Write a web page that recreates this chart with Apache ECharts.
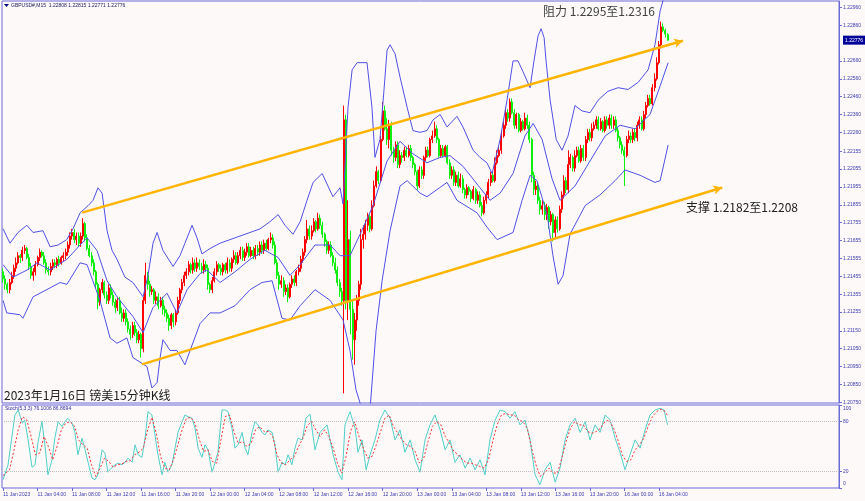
<!DOCTYPE html>
<html><head><meta charset="utf-8">
<script src="https://cdn.jsdelivr.net/npm/echarts@6/dist/echarts.min.js"></script>
<style>html,body{margin:0;padding:0;background:#fdf9f9;}#c{width:865px;height:501px;}</style>
</head><body><div id="c"></div>
<script>
const tickLabels = ["11 Jan 2023","11 Jan 04:00","11 Jan 08:00","11 Jan 12:00","11 Jan 16:00","11 Jan 20:00","12 Jan 00:00","12 Jan 04:00","12 Jan 08:00","12 Jan 12:00","12 Jan 16:00","12 Jan 20:00","13 Jan 00:00","13 Jan 04:00","13 Jan 08:00","13 Jan 12:00","13 Jan 16:00","13 Jan 20:00","16 Jan 00:00","16 Jan 04:00"];
const priceTicks = [1.22960,1.22860,1.22660,1.22560,1.22460,1.22360,1.22260,1.22155,1.22055,1.21955,1.21855,1.21755,1.21655,1.21555,1.21455,1.21355,1.21255,1.21150,1.21050,1.20950,1.20850,1.20750];
const stochTicks = [100,80,20,0];
const lastPrice = 1.22776;
const yMin = 1.20746, yMax = 1.22995;

const opens = [1.2148,1.2144,1.2141,1.2138,1.2142,1.2146,1.2150,1.2153,1.2157,1.2156,
1.2160,1.2161,1.2156,1.2151,1.2146,1.2148,1.2152,1.2156,1.2159,1.2157,
1.2153,1.2149,1.2148,1.2151,1.2153,1.2152,1.2155,1.2153,1.2156,1.2157,
1.2159,1.2163,1.2168,1.2170,1.2166,1.2168,1.2164,1.2168,1.2175,1.2167,
1.2161,1.2157,1.2153,1.2148,1.2141,1.2131,1.2138,1.2142,1.2135,1.2132,
1.2139,1.2135,1.2131,1.2128,1.2132,1.2125,1.2122,1.2125,1.2120,1.2116,
1.2113,1.2118,1.2114,1.2110,1.2113,1.2105,1.2132,1.2146,1.2141,1.2137,
1.2138,1.2132,1.2134,1.2129,1.2132,1.2127,1.2125,1.2122,1.2118,1.2124,
1.2120,1.2125,1.2132,1.2138,1.2142,1.2146,1.2148,1.2152,1.2149,1.2153,
1.2150,1.2153,1.2151,1.2149,1.2152,1.2150,1.2141,1.2138,1.2143,1.2148,
1.2152,1.2150,1.2148,1.2152,1.2149,1.2153,1.2150,1.2155,1.2157,1.2153,
1.2157,1.2160,1.2156,1.2159,1.2162,1.2157,1.2160,1.2157,1.2161,1.2159,
1.2163,1.2160,1.2164,1.2161,1.2166,1.2167,1.2163,1.2153,1.2146,1.2141,
1.2143,1.2137,1.2139,1.2134,1.2141,1.2144,1.2142,1.2148,1.2150,1.2155,
1.2159,1.2166,1.2172,1.2168,1.2171,1.2176,1.2172,1.2178,1.2174,1.2169,
1.2165,1.2160,1.2163,1.2157,1.2153,1.2149,1.2142,1.2137,1.2132,1.2233,
1.2132,1.2166,1.2127,1.2110,1.2121,1.2132,1.2141,1.2166,1.2169,1.2174,
1.2179,1.2172,1.2185,1.2196,1.2204,1.2199,1.2222,1.2238,1.2228,1.2222,
1.2230,1.2216,1.2212,1.2219,1.2208,1.2213,1.2212,1.2216,1.2213,1.2217,
1.2212,1.2208,1.2204,1.2196,1.2205,1.2202,1.2212,1.2216,1.2213,1.2222,
1.2224,1.2228,1.2222,1.2213,1.2217,1.2213,1.2218,1.2209,1.2202,1.2205,
1.2198,1.2202,1.2196,1.2200,1.2194,1.2191,1.2195,1.2193,1.2189,1.2194,
1.2188,1.2191,1.2185,1.2181,1.2188,1.2191,1.2198,1.2202,1.2199,1.2209,
1.2213,1.2216,1.2224,1.2230,1.2237,1.2234,1.2243,1.2237,1.2230,1.2236,
1.2227,1.2232,1.2228,1.2234,1.2230,1.2222,1.2202,1.2194,1.2196,1.2188,
1.2183,1.2185,1.2180,1.2184,1.2176,1.2180,1.2170,1.2177,1.2172,1.2183,
1.2191,1.2199,1.2194,1.2208,1.2212,1.2206,1.2213,1.2216,1.2210,1.2217,
1.2212,1.2222,1.2226,1.2223,1.2228,1.2230,1.2233,1.2228,1.2232,1.2227,
1.2233,1.2230,1.2234,1.2230,1.2233,1.2227,1.2223,1.2219,1.2216,1.2213,
1.2222,1.2224,1.2222,1.2226,1.2223,1.2230,1.2233,1.2228,1.2236,1.2241,
1.2245,1.2242,1.2251,1.2256,1.2265,1.2275,1.2285,1.2283,1.22808];
const highs = [1.2150,1.2146,1.2142,1.2144,1.2148,1.2152,1.2156,1.2159,1.2158,1.2162,
1.2163,1.2162,1.2158,1.2153,1.2150,1.2154,1.2157,1.2161,1.2160,1.2159,
1.2155,1.2151,1.2153,1.2155,1.2155,1.2156,1.2157,1.2157,1.2159,1.2161,
1.2165,1.2170,1.2172,1.2172,1.2170,1.2170,1.2170,1.2178,1.2176,1.2169,
1.2163,1.2159,1.2155,1.2149,1.2142,1.2139,1.2144,1.2143,1.2137,1.2141,
1.2141,1.2137,1.2133,1.2134,1.2134,1.2128,1.2127,1.2127,1.2122,1.2118,
1.2120,1.2120,1.2116,1.2115,1.2114,1.2134,1.2153,1.2148,1.2143,1.2140,
1.2139,1.2137,1.2136,1.2134,1.2134,1.2129,1.2127,1.2124,1.2125,1.2125,
1.2127,1.2134,1.2139,1.2144,1.2148,1.2150,1.2154,1.2153,1.2156,1.2155,
1.2156,1.2155,1.2153,1.2155,1.2154,1.2152,1.2142,1.2145,1.2150,1.2154,
1.2153,1.2152,1.2153,1.2153,1.2156,1.2155,1.2156,1.2160,1.2159,1.2159,
1.2162,1.2162,1.2161,1.2164,1.2164,1.2162,1.2162,1.2163,1.2163,1.2165,
1.2165,1.2166,1.2166,1.2167,1.2170,1.2169,1.2165,1.2155,1.2148,1.2146,
1.2145,1.2141,1.2141,1.2142,1.2146,1.2146,1.2149,1.2152,1.2157,1.2161,
1.2168,1.2177,1.2174,1.2174,1.2178,1.2177,1.2181,1.2180,1.2176,1.2170,
1.2166,1.2165,1.2165,1.2159,1.2156,1.2151,1.2144,1.2139,1.2241,1.2236,
1.2188,1.2171,1.2132,1.2125,1.2135,1.2143,1.2172,1.2174,1.2177,1.2181,
1.2180,1.2188,1.2199,1.2207,1.2205,1.2224,1.2243,1.2241,1.2234,1.2233,
1.2232,1.2218,1.2221,1.2221,1.2216,1.2215,1.2218,1.2218,1.2219,1.2219,
1.2213,1.2209,1.2205,1.2207,1.2207,1.2213,1.2218,1.2218,1.2223,1.2227,
1.2232,1.2230,1.2223,1.2219,1.2219,1.2219,1.2219,1.2211,1.2207,1.2207,
1.2204,1.2204,1.2203,1.2202,1.2195,1.2197,1.2196,1.2194,1.2196,1.2195,
1.2193,1.2193,1.2187,1.2190,1.2193,1.2200,1.2204,1.2204,1.2212,1.2216,
1.2218,1.2227,1.2232,1.2240,1.2239,1.2245,1.2245,1.2239,1.2237,1.2237,
1.2234,1.2233,1.2237,1.2236,1.2232,1.2223,1.2204,1.2199,1.2198,1.2190,
1.2188,1.2187,1.2186,1.2185,1.2182,1.2181,1.2179,1.2179,1.2185,1.2193,
1.2202,1.2201,1.2216,1.2214,1.2213,1.2216,1.2218,1.2218,1.2219,1.2219,
1.2224,1.2228,1.2228,1.2231,1.2232,1.2235,1.2235,1.2234,1.2233,1.2235,
1.2235,1.2236,1.2236,1.2235,1.2235,1.2229,1.2224,1.2221,1.2218,1.2224,
1.2227,1.2226,1.2228,1.2228,1.2232,1.2235,1.2235,1.2238,1.2243,1.2247,
1.2247,1.2253,1.2259,1.2268,1.2277,1.2288,1.2287,1.2284,1.22815];
const lows = [1.2142,1.2138,1.2136,1.2136,1.2141,1.2144,1.2148,1.2152,1.2153,1.2154,
1.2158,1.2155,1.2149,1.2144,1.2143,1.2146,1.2151,1.2154,1.2156,1.2152,
1.2147,1.2146,1.2146,1.2149,1.2150,1.2150,1.2151,1.2152,1.2154,1.2155,
1.2157,1.2161,1.2166,1.2164,1.2163,1.2162,1.2162,1.2166,1.2165,1.2160,
1.2156,1.2151,1.2146,1.2139,1.2127,1.2129,1.2136,1.2133,1.2130,1.2130,
1.2133,1.2129,1.2125,1.2126,1.2124,1.2120,1.2120,1.2118,1.2114,1.2110,
1.2111,1.2112,1.2108,1.2108,1.2100,1.2103,1.2130,1.2138,1.2134,1.2135,
1.2130,1.2130,1.2127,1.2128,1.2124,1.2123,1.2120,1.2115,1.2116,1.2117,
1.2118,1.2124,1.2130,1.2136,1.2140,1.2144,1.2146,1.2147,1.2147,1.2148,
1.2148,1.2149,1.2147,1.2147,1.2148,1.2138,1.2136,1.2136,1.2142,1.2146,
1.2148,1.2146,1.2146,1.2147,1.2147,1.2148,1.2148,1.2153,1.2152,1.2152,
1.2155,1.2154,1.2154,1.2157,1.2156,1.2156,1.2155,1.2155,1.2157,1.2157,
1.2158,1.2158,1.2160,1.2160,1.2164,1.2161,1.2152,1.2144,1.2138,1.2139,
1.2134,1.2135,1.2131,1.2133,1.2139,1.2140,1.2140,1.2146,1.2148,1.2153,
1.2157,1.2164,1.2166,1.2166,1.2170,1.2170,1.2171,1.2172,1.2167,1.2162,
1.2158,1.2158,1.2156,1.2151,1.2147,1.2140,1.2134,1.2129,1.2080,1.2127,
1.2121,1.2113,1.2099,1.2096,1.2115,1.2129,1.2138,1.2161,1.2166,1.2171,
1.2170,1.2171,1.2184,1.2195,1.2197,1.2198,1.2221,1.2227,1.2219,1.2217,
1.2213,1.2209,1.2210,1.2206,1.2206,1.2209,1.2210,1.2212,1.2212,1.2210,
1.2206,1.2202,1.2194,1.2195,1.2200,1.2200,1.2210,1.2212,1.2212,1.2220,
1.2223,1.2220,1.2212,1.2212,1.2212,1.2212,1.2208,1.2200,1.2200,1.2196,
1.2196,1.2195,1.2195,1.2192,1.2189,1.2189,1.2191,1.2187,1.2188,1.2186,
1.2186,1.2184,1.2179,1.2180,1.2186,1.2189,1.2196,1.2198,1.2198,1.2208,
1.2212,1.2214,1.2223,1.2228,1.2232,1.2232,1.2236,1.2228,1.2228,1.2226,
1.2226,1.2227,1.2227,1.2228,1.2220,1.2198,1.2191,1.2191,1.2186,1.2180,
1.2180,1.2177,1.2177,1.2172,1.2174,1.2165,1.2167,1.2170,1.2171,1.2181,
1.2189,1.2192,1.2192,1.2206,1.2204,1.2204,1.2212,1.2209,1.2209,1.2210,
1.2210,1.2220,1.2221,1.2221,1.2227,1.2228,1.2227,1.2227,1.2226,1.2226,
1.2228,1.2228,1.2228,1.2228,1.2226,1.2221,1.2217,1.2214,1.2196,1.2212,
1.2220,1.2220,1.2220,1.2221,1.2221,1.2228,1.2227,1.2227,1.2234,1.2240,
1.2241,1.2241,1.2249,1.2255,1.2264,1.2273,1.2282,1.2279,1.22771];
const closes = [1.2144,1.2141,1.2138,1.2142,1.2146,1.2150,1.2153,1.2157,1.2156,1.2160,
1.2161,1.2156,1.2151,1.2146,1.2148,1.2152,1.2156,1.2159,1.2157,1.2153,
1.2149,1.2148,1.2151,1.2153,1.2152,1.2155,1.2153,1.2156,1.2157,1.2159,
1.2163,1.2168,1.2170,1.2166,1.2168,1.2164,1.2168,1.2175,1.2167,1.2161,
1.2157,1.2153,1.2148,1.2141,1.2131,1.2138,1.2142,1.2135,1.2132,1.2139,
1.2135,1.2131,1.2128,1.2132,1.2125,1.2122,1.2125,1.2120,1.2116,1.2113,
1.2118,1.2114,1.2110,1.2113,1.2105,1.2132,1.2146,1.2141,1.2137,1.2138,
1.2132,1.2134,1.2129,1.2132,1.2127,1.2125,1.2122,1.2118,1.2124,1.2120,
1.2125,1.2132,1.2138,1.2142,1.2146,1.2148,1.2152,1.2149,1.2153,1.2150,
1.2153,1.2151,1.2149,1.2152,1.2150,1.2141,1.2138,1.2143,1.2148,1.2152,
1.2150,1.2148,1.2152,1.2149,1.2153,1.2150,1.2155,1.2157,1.2153,1.2157,
1.2160,1.2156,1.2159,1.2162,1.2157,1.2160,1.2157,1.2161,1.2159,1.2163,
1.2160,1.2164,1.2161,1.2166,1.2167,1.2163,1.2153,1.2146,1.2141,1.2143,
1.2137,1.2139,1.2134,1.2141,1.2144,1.2142,1.2148,1.2150,1.2155,1.2159,
1.2166,1.2172,1.2168,1.2171,1.2176,1.2172,1.2178,1.2174,1.2169,1.2165,
1.2160,1.2163,1.2157,1.2153,1.2149,1.2142,1.2137,1.2132,1.2233,1.2132,
1.2166,1.2127,1.2110,1.2121,1.2132,1.2141,1.2166,1.2169,1.2174,1.2179,
1.2172,1.2185,1.2196,1.2204,1.2199,1.2222,1.2238,1.2228,1.2222,1.2230,
1.2216,1.2212,1.2219,1.2208,1.2213,1.2212,1.2216,1.2213,1.2217,1.2212,
1.2208,1.2204,1.2196,1.2205,1.2202,1.2212,1.2216,1.2213,1.2222,1.2224,
1.2228,1.2222,1.2213,1.2217,1.2213,1.2218,1.2209,1.2202,1.2205,1.2198,
1.2202,1.2196,1.2200,1.2194,1.2191,1.2195,1.2193,1.2189,1.2194,1.2188,
1.2191,1.2185,1.2181,1.2188,1.2191,1.2198,1.2202,1.2199,1.2209,1.2213,
1.2216,1.2224,1.2230,1.2237,1.2234,1.2243,1.2237,1.2230,1.2236,1.2227,
1.2232,1.2228,1.2234,1.2230,1.2222,1.2202,1.2194,1.2196,1.2188,1.2183,
1.2185,1.2180,1.2184,1.2176,1.2180,1.2170,1.2177,1.2172,1.2183,1.2191,
1.2199,1.2194,1.2208,1.2212,1.2206,1.2213,1.2216,1.2210,1.2217,1.2212,
1.2222,1.2226,1.2223,1.2228,1.2230,1.2233,1.2228,1.2232,1.2227,1.2233,
1.2230,1.2234,1.2230,1.2233,1.2227,1.2223,1.2219,1.2216,1.2213,1.2222,
1.2224,1.2222,1.2226,1.2223,1.2230,1.2233,1.2228,1.2236,1.2241,1.2245,
1.2242,1.2251,1.2256,1.2265,1.2275,1.2285,1.2283,1.2281,1.22776];

const bbUpper = [[0,1.2172],[3.2,1.2164],[6.9,1.2170],[11,1.2174],[13.9,1.2170],[18.5,1.2171],[21.8,1.2162],[25.5,1.2163],[29.5,1.2166],[32.4,1.2172],[35.7,1.2181],[39.4,1.2185],[41.7,1.2188],[44,1.2195],[45.9,1.2192],[48.2,1.2171],[50.5,1.2160],[52.8,1.2155],[56.5,1.2145],[60.2,1.2142],[64.9,1.2134],[67.2,1.2146],[69.5,1.2164],[71.4,1.2170],[74.1,1.2160],[78.8,1.2151],[82,1.2157],[84.3,1.2164],[87.6,1.2174],[89.9,1.2167],[92.2,1.2158],[95.9,1.2161],[100.6,1.2164],[105.2,1.2166],[109.8,1.2168],[114.5,1.2170],[119.1,1.2172],[123.7,1.2176],[127.5,1.2180],[130.7,1.2174],[134.4,1.2169],[137.7,1.2176],[140.9,1.2188],[143.7,1.2198],[147.9,1.2203],[152.9,1.2190],[156.2,1.2195],[157.6,1.2186],[159.9,1.2240],[161.8,1.2261],[164.1,1.2265],[168.7,1.2265],[171,1.2240],[172.4,1.2212],[174.7,1.2222],[176.6,1.2250],[178,1.2272],[179.4,1.2275],[181.7,1.2270],[184,1.2257],[187.3,1.2240],[190,1.2227],[193.3,1.2226],[196.5,1.2227],[199.3,1.2233],[202.6,1.2236],[205.8,1.2229],[210.4,1.2235],[213.2,1.2229],[217.9,1.2216],[221.1,1.2212],[224.3,1.2209],[226.7,1.2203],[230.4,1.2222],[233.6,1.2244],[236.4,1.2266],[238.7,1.2266],[241,1.2260],[244.3,1.2251],[246.1,1.2266],[248,1.2280],[249.4,1.2284],[250.8,1.2279],[251.7,1.2266],[253.6,1.2244],[256.4,1.2222],[259.1,1.2216],[261.9,1.2224],[265.1,1.2241],[268.4,1.2238],[272.1,1.2237],[275.8,1.2244],[280.4,1.2249],[285.1,1.2251],[289.7,1.2250],[294.4,1.2254],[299,1.2261],[302.2,1.2275],[304.6,1.2294],[306,1.2300]];
const bbMid = [[0,1.2152],[4.6,1.2145],[11.1,1.2149],[15.7,1.2153],[21.8,1.2149],[29.6,1.2155],[35.7,1.2163],[38.9,1.2167],[43.5,1.2160],[48.2,1.2143],[52.8,1.2134],[60.2,1.2123],[64.9,1.2114],[69.5,1.2128],[76,1.2136],[80.6,1.2125],[85.3,1.2138],[91.3,1.2147],[94.5,1.2149],[100.6,1.2142],[107.5,1.2148],[114.5,1.2155],[121.4,1.2160],[127.5,1.2156],[133,1.2146],[137.7,1.2152],[144.6,1.2163],[151.6,1.2163],[156.2,1.2157],[160.8,1.2157],[165.5,1.2169],[171.5,1.2185],[178,1.2210],[184,1.2221],[190,1.2214],[196.5,1.2209],[202.6,1.2212],[207.2,1.2213],[213.2,1.2207],[221.1,1.2195],[225.7,1.2188],[230.4,1.2192],[236.4,1.2203],[241.9,1.2224],[245.7,1.2231],[249.9,1.2222],[254.5,1.2200],[258.2,1.2188],[265.1,1.2196],[272.1,1.2210],[279.1,1.2224],[286,1.2230],[293,1.2228],[299.9,1.2236],[304.6,1.2252],[308.3,1.2265]];
const bbLower = [[0,1.2132],[1.7,1.2125],[7.8,1.2124],[9.2,1.2122],[13.9,1.2134],[21.8,1.2139],[26.4,1.2142],[29.6,1.2141],[35.7,1.2153],[38.9,1.2152],[44.9,1.2132],[49.6,1.2111],[52.8,1.2108],[57.4,1.2111],[60.2,1.2100],[66.7,1.2095],[69,1.2083],[71.4,1.2086],[72.8,1.2100],[74.1,1.2110],[77.4,1.2104],[80.6,1.2104],[84.3,1.2096],[86.7,1.2104],[91.3,1.2119],[95.9,1.2125],[100.6,1.2125],[107.5,1.2129],[114.5,1.2138],[120,1.2142],[124.7,1.2143],[129.3,1.2122],[133,1.2121],[137.7,1.2129],[144.6,1.2138],[151.6,1.2132],[157.6,1.2121],[160.8,1.2104],[163.6,1.2082],[166.4,1.2071],[170.1,1.2071],[172.9,1.2115],[175.7,1.2143],[179.4,1.2171],[184,1.2196],[187.3,1.2199],[193.3,1.2192],[196.5,1.2190],[205.8,1.2198],[210.4,1.2188],[219.7,1.2181],[224.3,1.2173],[229,1.2166],[236.4,1.2170],[240.6,1.2188],[244.3,1.2202],[247.5,1.2199],[252.2,1.2180],[254.9,1.2157],[257.3,1.2141],[259.6,1.2146],[262.8,1.2169],[269.8,1.2185],[276.7,1.2191],[283.7,1.2199],[288.3,1.2205],[295.3,1.2202],[302.2,1.2198],[304.6,1.2199],[308.3,1.2219]];

const stochMain = [[0,10],[2.3,28],[4,60],[5.5,88],[7,94],[9,78],[10,82],[11.5,60],[13.4,25],[14.8,28],[16.2,55],[18,80],[19.4,52],[20.8,16],[22.7,34],[24,60],[25.5,80],[27.3,74],[28.7,80],[30,84],[32,78],[33.3,67],[34.7,40],[36.6,60],[38,46],[39.4,31],[41.2,12],[42.6,10],[44,16],[45.9,46],[47.2,42],[48.6,19],[50.5,25],[51.9,28],[53.3,30],[55.1,28],[56.5,31],[57.9,36],[59.8,31],[61.2,52],[62.6,40],[64.4,37],[65.8,60],[67.2,92],[69,88],[70.4,64],[71.8,40],[73.7,16],[75,31],[76.5,19],[78.3,28],[79.7,48],[81.1,67],[83,80],[84.3,88],[85.7,86],[87.6,84],[89,72],[90.4,48],[92.2,37],[93.6,52],[95,46],[96.9,19],[98.3,31],[99.6,43],[101.5,94],[102.9,94],[104.3,92],[106.1,72],[107.5,48],[108.9,52],[110.8,67],[112.2,48],[113.5,40],[115.4,67],[116.8,80],[118.2,76],[120,67],[121.4,64],[122.8,70],[124.7,67],[126,52],[127.5,19],[129.3,31],[130.7,28],[132.1,40],[133.9,28],[135.3,48],[136.7,60],[138.7,58],[140.4,84],[142.3,89],[144.6,46],[146.9,67],[150.2,76],[153,40],[155.3,19],[157.1,10],[158.5,76],[160.8,92],[163.2,72],[164.5,43],[166.4,58],[168.3,22],[170.1,40],[172.4,58],[174.7,82],[177,94],[179.4,84],[181.7,58],[184,70],[186.3,43],[188.7,58],[191,34],[193.3,19],[195.6,58],[197.9,76],[200.2,88],[202.6,70],[204.9,46],[207.2,58],[209.5,31],[211.8,40],[214.2,24],[216.5,36],[218.8,22],[221.1,34],[223.4,16],[225.7,58],[228.1,82],[230.4,94],[232.7,92],[235,84],[237.3,92],[239.6,76],[241.9,82],[244.3,58],[246.6,16],[248.9,4],[251.2,22],[253.6,31],[255.9,7],[258.2,24],[260.5,58],[262.8,76],[265.2,84],[267.5,67],[269.8,80],[272.1,58],[274.4,76],[276.7,67],[279.1,88],[281.4,82],[283.7,60],[286,43],[288.3,22],[290.6,40],[293,58],[295.3,48],[297.6,70],[299.9,88],[302.2,94],[304.6,96],[306.4,94],[308,76.1]];
const stochSignal = [[0,15],[3,22],[5,45],[7,70],[9,86],[11,82],[13,62],[15,40],[17,42],[19,62],[21,50],[23,34],[25,50],[27,70],[29,78],[31,80],[33,75],[35,58],[37,52],[39,48],[41,28],[43,14],[45,24],[47,36],[49,32],[51,25],[53,28],[55,29],[57,32],[59,33],[61,40],[63,43],[65,48],[67,70],[69,85],[71,66],[73,38],[75,24],[77,22],[79,34],[81,52],[83,70],[85,84],[87,85],[89,78],[91,58],[93,44],[95,46],[97,32],[99,30],[101,58],[103,86],[105,88],[107,68],[109,54],[111,56],[113,50],[115,54],[117,70],[119,74],[121,68],[123,68],[125,62],[127,40],[129,30],[131,28],[133,34],[135,38],[137,50],[139,60],[141,75],[143,80],[145,70],[147,62],[149,70],[151,62],[153,48],[155,30],[157,18],[159,38],[161,68],[163,80],[165,62],[167,48],[169,36],[171,38],[173,52],[175,68],[177,84],[179,88],[181,74],[183,66],[185,58],[187,52],[189,50],[191,44],[193,30],[195,36],[197,56],[199,74],[201,80],[203,76],[205,62],[207,54],[209,44],[211,40],[213,34],[215,30],[217,30],[219,28],[221,26],[223,24],[225,34],[227,56],[229,76],[231,88],[233,90],[235,88],[237,88],[239,82],[241,80],[243,72],[245,48],[247,28],[249,14],[251,18],[253,24],[255,18],[257,18],[259,36],[261,56],[263,72],[265,80],[267,76],[269,76],[271,68],[273,66],[275,68],[277,72],[279,80],[281,82],[283,72],[285,58],[287,40],[289,32],[291,34],[293,46],[295,52],[297,60],[299,74],[301,86],[303,92],[305,95],[307,92],[308,86.87]];

const upperChannel = [[36.6,1.21811],[315.2,1.22773]];
const lowerChannel = [[64.4,1.20962],[333.4,1.21952]];

const N = 388;
const cats = Array.from({length:N},(_,i)=>String(i));
const candleData = cats.map((_,i)=>(i<closes.length)?[opens[i],closes[i],lows[i],highs[i]]:'-');
const blue='#5050e6', frame='#6b6bd6', axisTxt='#3a3ab0';
const fnt = 'Liberation Sans';
const chart = echarts.init(document.getElementById('c'),null,{renderer:'canvas'});
chart.setOption({
  animation:false,
  backgroundColor:'#fdf9f9',
  grid:[
    {left:2,top:1,width:837,height:402,show:true,borderColor:frame,borderWidth:1,outerBoundsMode:'none',containLabel:false},
    {left:2,top:405,width:837,height:83,show:true,borderColor:frame,borderWidth:1,outerBoundsMode:'none',containLabel:false}
  ],
  xAxis:[
    {type:'category',gridIndex:0,data:cats,show:false,boundaryGap:true},
    {type:'value',gridIndex:0,min:-0.5,max:N-0.5,show:false},
    {type:'category',gridIndex:1,data:cats,boundaryGap:true,
      axisLine:{show:false},
      axisTick:{show:true,alignWithLabel:true,interval:(i)=>i%16===0&&i/16<tickLabels.length,length:3,lineStyle:{color:frame}},
      axisLabel:{interval:(i)=>i%16===0&&i/16<tickLabels.length,formatter:(v,i)=>tickLabels[i/16]||'',align:'left',margin:4,fontSize:5,fontFamily:fnt,color:axisTxt}},
    {type:'value',gridIndex:1,min:-0.5,max:N-0.5,show:false}
  ],
  yAxis:[
    {type:'value',gridIndex:0,position:'right',min:yMin,max:yMax,splitLine:{show:false},
      axisLine:{show:true,onZero:false,lineStyle:{color:frame}},
      axisTick:{show:true,inside:false,length:3,customValues:priceTicks,lineStyle:{color:frame}},
      axisLabel:{customValues:priceTicks.concat([lastPrice]),margin:4,fontSize:5,fontFamily:fnt,color:axisTxt,
        formatter:(v)=>Math.abs(v-lastPrice)<1e-7?'{hl|'+lastPrice.toFixed(5)+'}':v.toFixed(5),
        rich:{hl:{backgroundColor:'#000099',color:'#ffffff',fontSize:5,fontFamily:fnt,padding:[2,3,2,2]}}}},
    {type:'value',gridIndex:1,position:'right',min:0,max:100,splitLine:{show:false},
      axisLine:{show:true,onZero:false,lineStyle:{color:frame}},
      axisTick:{show:true,inside:false,length:3,customValues:stochTicks,lineStyle:{color:frame}},
      axisLabel:{customValues:stochTicks,margin:4,fontSize:5,fontFamily:fnt,color:axisTxt,
        formatter:(v)=>v===100?'{t|100}':(v===0?'{b|0}':String(v)),
        rich:{t:{fontSize:5,fontFamily:fnt,color:axisTxt,padding:[8,0,0,0]},b:{fontSize:5,fontFamily:fnt,color:axisTxt,padding:[0,0,8,0]}}}}
  ],
  series:[
    {type:'line',xAxisIndex:1,yAxisIndex:0,data:bbUpper,symbol:'none',lineStyle:{color:blue,width:1}},
    {type:'line',xAxisIndex:1,yAxisIndex:0,data:bbMid,symbol:'none',lineStyle:{color:blue,width:1}},
    {type:'line',xAxisIndex:1,yAxisIndex:0,data:bbLower,symbol:'none',lineStyle:{color:blue,width:1}},
    {type:'candlestick',xAxisIndex:0,yAxisIndex:0,data:candleData,barWidth:1.5,
      itemStyle:{color:'#ff0000',color0:'#10ee10',borderColor:'#ff0000',borderColor0:'#10ee10',borderWidth:1}},
    {type:'line',xAxisIndex:1,yAxisIndex:0,data:upperChannel,symbol:'none',lineStyle:{opacity:0},
      markLine:{silent:true,symbol:['none','arrow'],symbolSize:[7,9],label:{show:false},lineStyle:{color:'#ffb400',width:2.5,type:'solid'},
        data:[[{coord:upperChannel[0]},{coord:upperChannel[1]}]]}},
    {type:'line',xAxisIndex:1,yAxisIndex:0,data:lowerChannel,symbol:'none',lineStyle:{opacity:0},
      markLine:{silent:true,symbol:['none','arrow'],symbolSize:[7,9],label:{show:false},lineStyle:{color:'#ffb400',width:2.5,type:'solid'},
        data:[[{coord:lowerChannel[0]},{coord:lowerChannel[1]}]]}},
    {type:'line',xAxisIndex:3,yAxisIndex:1,data:stochMain,symbol:'none',lineStyle:{color:'#4fd0c8',width:1},
      markLine:{silent:true,symbol:'none',label:{show:false},lineStyle:{color:'#c0c0c0',width:1,type:'dotted'},data:[{yAxis:80},{yAxis:20}]}},
    {type:'line',xAxisIndex:3,yAxisIndex:1,data:stochSignal,symbol:'none',lineStyle:{color:'#ff3030',width:1,type:[2,2]}}
  ],
  graphic:[
    {type:'polygon',shape:{points:[[4,4],[9,4],[6.5,7]]},style:{fill:'#000080'}},
    {type:'text',left:11,top:3,style:{text:'GBPUSD#,M15  1.22808 1.22815 1.22771 1.22776',font:'5px "Liberation Sans"',fill:'#202060'}},
    {type:'text',left:5,top:406,style:{text:'Stoch(5,3,3) 76.1006 86.8694',font:'5px "Liberation Sans"',fill:'#3030a0'}},
    {type:'text',left:543,top:5,style:{text:'阻力 1.2295至1.2316',font:'12px "Noto Sans CJK SC"',fill:'#404040'}},
    {type:'text',left:686,top:201,style:{text:'支撑 1.2182至1.2208',font:'12px "Noto Sans CJK SC"',fill:'#202020'}},
    {type:'text',left:4,top:389,style:{text:'2023年1月16日 镑美15分钟K线',font:'12px "Noto Sans CJK SC"',fill:'#202020'}}
  ]
});
</script></body></html>
